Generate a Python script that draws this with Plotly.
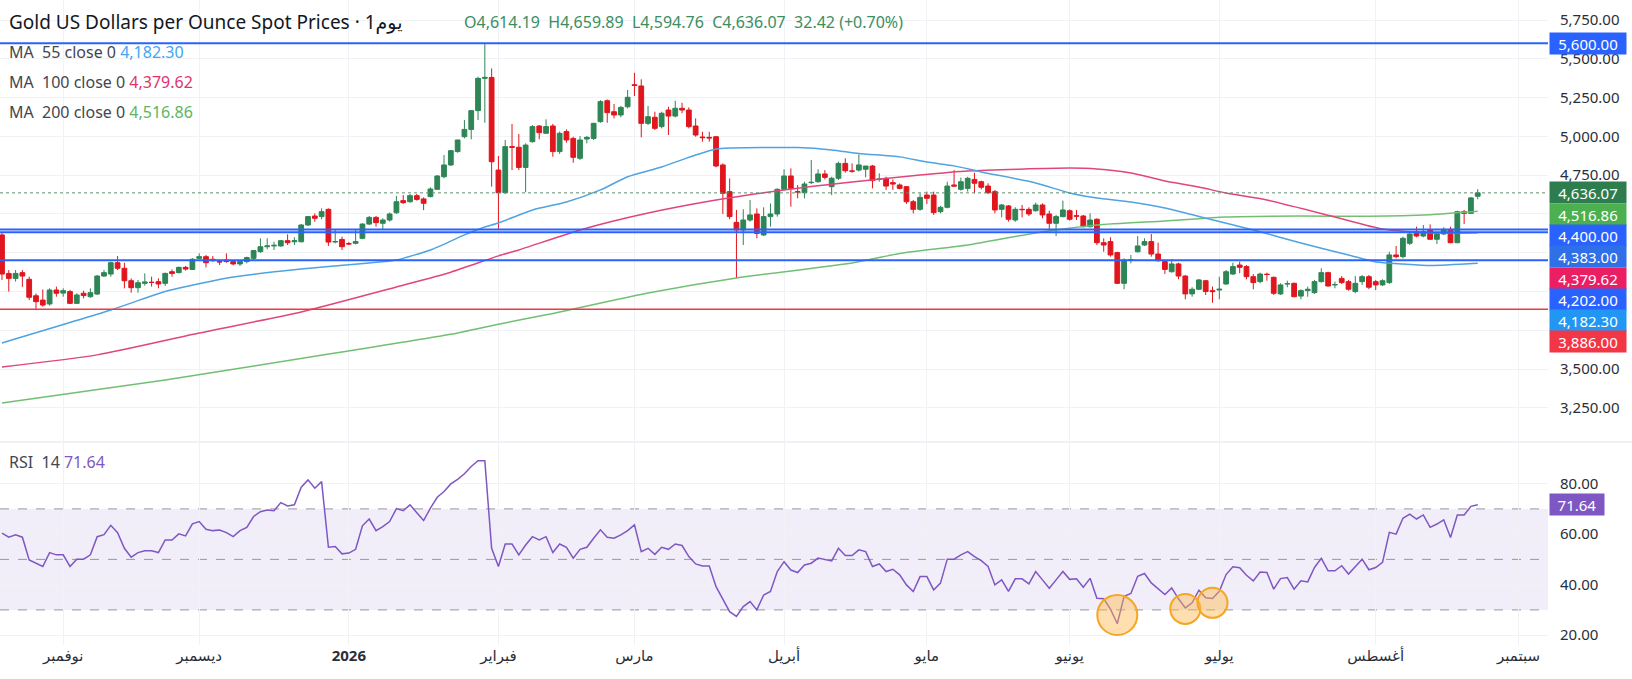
import pandas as pd
import plotly.graph_objects as go
from plotly.subplots import make_subplots

# ---------------------------------------------------------------------------
# Data (daily bars, weekdays minus the two closed days)
# ---------------------------------------------------------------------------
FIRST_BAR = "2025-10-21"
LAST_BAR = "2026-08-24"
HOLIDAYS = ["2025-12-25", "2026-04-03"]

OPEN = [
    4365, 4117, 4085, 4122, 4079, 3973, 3945, 3920, 4010, 3990,
    4000, 3924, 3989, 3967, 3984, 4100, 4113, 4186, 4150, 4070,
    4025, 4053, 4060, 4064, 4053, 4128, 4122, 4156, 4143, 4214,
    4225, 4208, 4193, 4203, 4193, 4178, 4193, 4214, 4257, 4289,
    4294, 4294, 4328, 4321, 4321, 4429, 4487, 4483, 4530, 4320,
    4336, 4309, 4311, 4343, 4435, 4478, 4440, 4461, 4508, 4586,
    4579, 4618, 4597, 4612, 4659, 4740, 4816, 4902, 4998, 5045,
    5166, 5374, 5380, 4783, 4637, 4934, 4930, 4800, 4966, 5067,
    5020, 5067, 4902, 5031, 4987, 4859, 4983, 4987, 5095, 5230,
    5159, 5138, 5191, 5333, 5325, 5084, 5123, 5063, 5170, 5131,
    5181, 5170, 5067, 4996, 4994, 4998, 4816, 4644, 4446, 4397,
    4461, 4500, 4365, 4483, 4500, 4659, 4745, 4644, 4637, 4702,
    4708, 4758, 4676, 4730, 4826, 4777, 4783, 4788, 4809, 4723,
    4730, 4702, 4687, 4676, 4579, 4530, 4622, 4622, 4515, 4543,
    4687, 4659, 4665, 4723, 4708, 4680, 4644, 4530, 4552, 4461,
    4530, 4530, 4521, 4558, 4500, 4440, 4483, 4521, 4489, 4487,
    4418, 4466, 4315, 4322, 4251, 4053, 4203, 4257, 4300, 4322,
    4242, 4193, 4128, 4178, 4100, 3985, 4015, 4070, 4006, 4010,
    4049, 4113, 4171, 4161, 4096, 4064, 4112, 4092, 3985, 4049,
    4053, 3971, 4006, 3993, 4064, 4122, 4043, 4085, 4064, 4000,
    4064, 4096, 4064, 4043, 4058, 4236, 4225, 4311, 4386, 4358,
    4397, 4337, 4371, 4401, 4315, 4515, 4504, 4614.19,
]
HIGH = [
    4380, 4139, 4139, 4139, 4096, 3988, 4014, 4021, 4032, 4021,
    4011, 3989, 4006, 4021, 4107, 4139, 4193, 4229, 4186, 4085,
    4075, 4117, 4096, 4085, 4122, 4143, 4161, 4165, 4216, 4246,
    4236, 4229, 4208, 4246, 4203, 4203, 4225, 4268, 4343, 4343,
    4321, 4332, 4369, 4350, 4435, 4487, 4504, 4536, 4536, 4397,
    4354, 4320, 4397, 4440, 4487, 4487, 4472, 4509, 4616, 4622,
    4629, 4629, 4607, 4672, 4751, 4880, 4912, 4977, 5105, 5170,
    5385, 5595, 5438, 4874, 4977, 5080, 5015, 4955, 5073, 5073,
    5110, 5080, 5031, 5045, 4998, 5002, 5002, 5088, 5234, 5238,
    5209, 5196, 5299, 5410, 5368, 5196, 5159, 5159, 5191, 5230,
    5217, 5187, 5116, 5030, 5030, 5002, 4826, 4729, 4526, 4530,
    4590, 4536, 4543, 4568, 4665, 4788, 4794, 4687, 4708, 4848,
    4788, 4783, 4740, 4837, 4859, 4826, 4884, 4809, 4816, 4762,
    4740, 4723, 4697, 4680, 4590, 4633, 4644, 4644, 4552, 4708,
    4783, 4734, 4740, 4766, 4715, 4698, 4655, 4564, 4558, 4543,
    4558, 4543, 4573, 4568, 4521, 4494, 4586, 4530, 4526, 4494,
    4504, 4472, 4343, 4350, 4257, 4214, 4236, 4358, 4343, 4371,
    4315, 4203, 4208, 4186, 4107, 4028, 4081, 4075, 4032, 4096,
    4139, 4186, 4193, 4171, 4113, 4122, 4122, 4096, 4053, 4070,
    4058, 4015, 4032, 4075, 4150, 4128, 4064, 4100, 4075, 4100,
    4107, 4107, 4075, 4079, 4257, 4294, 4354, 4386, 4418, 4429,
    4433, 4375, 4414, 4418, 4521, 4526, 4610, 4659.89,
]
LOW = [
    4075, 4000, 4064, 4030, 3945, 3880, 3903, 3909, 3967, 3967,
    3920, 3920, 3956, 3960, 3978, 4096, 4096, 4139, 4021, 3993,
    3993, 4038, 4032, 4021, 4036, 4096, 4117, 4135, 4139, 4208,
    4156, 4193, 4171, 4186, 4169, 4165, 4182, 4203, 4250, 4272,
    4268, 4289, 4300, 4300, 4317, 4423, 4450, 4466, 4294, 4311,
    4268, 4300, 4305, 4337, 4429, 4418, 4397, 4451, 4500, 4564,
    4573, 4586, 4525, 4607, 4655, 4730, 4809, 4895, 4987, 4981,
    5105, 5088, 4676, 4397, 4630, 4783, 4783, 4640, 4960, 4981,
    5015, 4869, 4887, 4960, 4830, 4848, 4955, 4977, 5088, 5088,
    5116, 5123, 5181, 5260, 4994, 5073, 5041, 5052, 5009, 5123,
    5149, 5052, 4998, 4966, 4966, 4801, 4500, 4466, 4086, 4300,
    4450, 4343, 4358, 4418, 4483, 4655, 4547, 4601, 4601, 4693,
    4702, 4723, 4622, 4719, 4766, 4766, 4773, 4736, 4665, 4708,
    4655, 4655, 4659, 4565, 4504, 4521, 4564, 4494, 4504, 4536,
    4676, 4650, 4644, 4633, 4659, 4629, 4504, 4478, 4451, 4450,
    4478, 4487, 4515, 4472, 4397, 4358, 4478, 4457, 4461, 4414,
    4414, 4300, 4257, 4225, 4049, 4015, 4182, 4251, 4294, 4225,
    4193, 4113, 4122, 4079, 3950, 3967, 4010, 3978, 3928, 3950,
    4043, 4107, 4118, 4079, 4015, 4053, 4070, 3978, 3978, 4028,
    3963, 3950, 3967, 3985, 4058, 4032, 4021, 4049, 4006, 3989,
    4043, 4015, 4010, 4036, 4049, 4214, 4214, 4300, 4350, 4350,
    4332, 4307, 4365, 4311, 4311, 4435, 4500, 4594.76,
]
CLOSE = [
    4113, 4085, 4117, 4100, 3963, 3935, 3913, 4010, 3989, 4006,
    3924, 3978, 3974, 3993, 4100, 4122, 4186, 4150, 4070, 4025,
    4057, 4062, 4059, 4049, 4117, 4117, 4156, 4145, 4208, 4225,
    4186, 4199, 4191, 4193, 4178, 4193, 4219, 4264, 4289, 4294,
    4298, 4328, 4315, 4328, 4429, 4483, 4472, 4515, 4319, 4322,
    4289, 4307, 4322, 4435, 4478, 4444, 4461, 4500, 4579, 4573,
    4618, 4594, 4569, 4661, 4745, 4816, 4908, 4977, 5045, 5166,
    5374, 5380, 4837, 4637, 4934, 4930, 4800, 4944, 5063, 5024,
    5063, 4902, 5020, 4977, 4865, 4977, 4994, 5084, 5224, 5153,
    5138, 5187, 5252, 5328, 5084, 5127, 5052, 5149, 5131, 5181,
    5170, 5063, 5009, 4992, 4990, 4809, 4633, 4483, 4397, 4461,
    4494, 4375, 4483, 4500, 4659, 4745, 4665, 4642, 4693, 4704,
    4758, 4736, 4730, 4826, 4779, 4776, 4816, 4809, 4715, 4725,
    4680, 4693, 4665, 4579, 4530, 4607, 4601, 4509, 4543, 4680,
    4680, 4708, 4730, 4698, 4672, 4637, 4526, 4558, 4466, 4530,
    4528, 4500, 4558, 4494, 4440, 4483, 4526, 4466, 4486, 4418,
    4461, 4315, 4300, 4236, 4053, 4203, 4205, 4294, 4322, 4242,
    4199, 4143, 4178, 4100, 3985, 4015, 4075, 4000, 4000, 4015,
    4128, 4161, 4156, 4096, 4058, 4113, 4110, 3989, 4043, 4051,
    3967, 4006, 4015, 4064, 4122, 4036, 4045, 4058, 4015, 4053,
    4096, 4028, 4043, 4070, 4236, 4225, 4343, 4371, 4358, 4386,
    4337, 4371, 4401, 4315, 4515, 4504, 4603.65, 4636.07,
]
RSI = [
    60.4, 58.8, 59.7, 58.8, 49.8, 48.5, 47.2, 52.7, 51.8, 51.8,
    47.2, 50.1, 50.1, 51.8, 59.0, 59.8, 63.5, 60.6, 54.4, 50.9,
    52.7, 53.4, 53.4, 52.7, 57.7, 57.7, 60.1, 59.3, 64.1, 65.0,
    61.9, 61.4, 61.6, 60.6, 59.0, 61.4, 62.7, 67.0, 68.9, 69.6,
    69.3, 72.5, 71.2, 71.6, 78.6, 81.5, 78.2, 80.8, 54.8, 55.1,
    52.2, 52.5, 54.0, 63.3, 66.0, 61.4, 63.0, 65.0, 70.1, 69.3,
    71.6, 68.5, 65.4, 70.3, 74.6, 76.9, 79.9, 81.7, 83.9, 86.8,
    89.1, 89.1, 54.4, 47.2, 56.1, 56.1, 51.8, 55.7, 59.0, 57.7,
    59.0, 52.7, 56.1, 54.8, 50.5, 54.0, 54.8, 58.4, 61.7, 58.8,
    58.4, 59.7, 61.4, 63.7, 53.1, 54.4, 52.0, 54.8, 54.0, 56.1,
    55.5, 51.1, 48.2, 47.4, 47.4, 39.2, 34.0, 29.3, 27.4, 31.3,
    33.3, 30.0, 35.9, 37.3, 45.2, 49.1, 45.8, 44.8, 47.8, 48.5,
    50.5, 49.8, 49.4, 54.4, 51.5, 51.5, 53.8, 53.1, 47.2, 48.2,
    45.2, 46.1, 43.9, 39.9, 37.3, 43.2, 43.2, 37.9, 40.6, 50.1,
    50.1, 51.8, 53.1, 51.1, 49.5, 47.2, 39.9, 41.9, 37.3, 42.3,
    42.3, 40.3, 45.2, 41.9, 38.6, 41.9, 45.2, 42.1, 42.3, 39.0,
    42.5, 34.6, 34.4, 30.3, 24.5, 35.4, 36.5, 43.3, 44.4, 40.7,
    38.3, 36.1, 38.7, 34.4, 30.8, 32.8, 37.8, 34.8, 34.5, 37.4,
    44.0, 47.1, 46.7, 43.7, 41.5, 45.0, 44.8, 38.2, 42.4, 42.8,
    38.2, 41.5, 41.1, 46.8, 50.4, 45.5, 45.5, 47.5, 44.2, 47.2,
    50.1, 45.9, 46.8, 48.8, 60.7, 60.0, 66.3, 67.9, 66.0, 67.6,
    62.7, 64.0, 65.7, 58.7, 67.6, 67.6, 71.0, 71.64,
]

# moving averages, read at a handful of bars (bar index -> value)
MA55_BARS = [0, 16, 24, 34, 44, 54, 58, 63, 68, 71, 73, 78, 83, 88, 92, 97, 102, 105, 107,
             117, 122, 126, 132, 136, 140, 144, 152, 157, 161, 166, 171, 176, 184, 191,
             198, 202, 206, 210, 217]
MA55_VALS = [3669, 3881, 4000, 4094, 4145, 4184, 4204, 4268, 4365, 4416, 4442, 4526, 4577,
             4655, 4740, 4803, 4880, 4919, 4925, 4928, 4913, 4890, 4868, 4835, 4810, 4771,
             4700, 4635, 4603, 4577, 4539, 4484, 4397, 4313, 4236, 4191, 4178, 4168, 4182.30]
MA100_BARS = [0, 14, 29, 44, 58, 66, 73, 76, 85, 95, 105, 115, 125, 135, 142, 157, 161, 166,
              171, 176, 180, 186, 196, 203, 210, 217]
MA100_VALS = [3514, 3592, 3733, 3869, 4030, 4125, 4230, 4268, 4397, 4506, 4590, 4655, 4706,
              4751, 4777, 4796, 4790, 4764, 4713, 4674, 4635, 4590, 4481, 4403, 4378, 4379.62]
MA200_BARS = [0, 24, 49, 66, 73, 80, 95, 108, 125, 132, 142, 152, 161, 171, 180, 191, 201,
              210, 217]
MA200_VALS = [3282, 3430, 3604, 3725, 3790, 3850, 3991, 4088, 4184, 4245, 4300, 4378, 4429,
              4455, 4481, 4487, 4485, 4495, 4516.86]

# horizontal levels drawn on the chart
BLUE_LEVELS = [5600.0, 4400.0, 4383.0, 4202.0]
RED_LEVEL = 3886.0

# RSI dips marked with orange circles (bar index, RSI value, radius px)
RSI_MARK_BARS = [164, 174, 178]
RSI_MARK_VALS = [28.0, 30.4, 32.8]
RSI_MARK_SIZE = [20, 15, 15]

MONTH_TICKS = ["2025-11-03", "2025-12-01", "2026-01-01", "2026-02-02", "2026-03-02",
               "2026-04-01", "2026-05-01", "2026-06-01", "2026-07-01", "2026-08-03",
               "2026-09-01"]
MONTH_TEXT = ["نوفمبر", "ديسمبر", "<b>2026</b>", "فبراير", "مارس", "أبريل", "مايو",
              "يونيو", "يوليو", "أغسطس", "سبتمبر"]
PRICE_TICKS = [3250, 3500, 3750, 4000, 4250, 4500, 4750, 5000, 5250, 5500, 5750]

# ---------------------------------------------------------------------------
W, H = 1632, 679
M_R, M_B = 84, 34
PLOT_W, PLOT_H = W - M_R, H - M_B
PRICE_PX = 441                      # height of the price pane
PRICE_RANGE = [3037, 5879]
RSI_RANGE = [16.1, 96.1]
PRICE_DOMAIN = [1 - PRICE_PX / PLOT_H, 1]
RSI_DOMAIN = [0, 1 - 443 / PLOT_H]

FONT = "Noto Sans, DejaVu Sans, sans-serif"
TEXT = "#2A2E39"
UP, DOWN = "#2E8555", "#E0161E"
MA55_C, MA100_C, MA200_C = "#4FA3E0", "#E0467C", "#72BF74"
BLUE, BLUE2, RED = "#2962FF", "#2F6FE8", "#F23645"
RSI_C = "#7E57C2"
GRID = "#F0F2F6"

dates = [d + pd.Timedelta(hours=12) for d in pd.bdate_range(FIRST_BAR, LAST_BAR)
         if d.strftime("%Y-%m-%d") not in HOLIDAYS]
assert len(dates) == len(CLOSE) == len(OPEN) == len(RSI)
at = lambda bars: [dates[k] for k in bars]

fig = make_subplots(rows=2, cols=1, shared_xaxes=True, vertical_spacing=0.01)

fig.add_trace(go.Candlestick(
    x=dates, open=OPEN, high=HIGH, low=LOW, close=CLOSE, whiskerwidth=0,
    increasing=dict(line=dict(color=UP, width=1), fillcolor=UP),
    decreasing=dict(line=dict(color=DOWN, width=1), fillcolor=DOWN),
    showlegend=False), row=1, col=1)

for bars, vals, color in ((MA200_BARS, MA200_VALS, MA200_C),
                          (MA100_BARS, MA100_VALS, MA100_C),
                          (MA55_BARS, MA55_VALS, MA55_C)):
    fig.add_trace(go.Scatter(x=at(bars), y=vals, mode="lines", showlegend=False,
                             line=dict(color=color, width=1.5, shape="spline", smoothing=0.6)),
                  row=1, col=1)

for lvl in BLUE_LEVELS:
    fig.add_hline(y=lvl, line=dict(color=BLUE, width=2), row=1, col=1)
fig.add_hline(y=RED_LEVEL, line=dict(color=RED, width=1.5), row=1, col=1)
fig.add_hline(y=CLOSE[-1], line=dict(color="#5E8F6E", width=1, dash="dot"), row=1, col=1)

# --- RSI pane ---
fig.add_shape(type="rect", xref="x2 domain", yref="y2", x0=0, x1=1, y0=30, y1=70,
              fillcolor="rgba(126,87,194,0.10)", line_width=0, layer="below")
for lvl in (70, 50, 30):
    fig.add_shape(type="line", xref="x2 domain", yref="y2", x0=0, x1=1, y0=lvl, y1=lvl,
                  line=dict(color="#9598A1", width=1, dash="dash"), layer="below")
fig.add_trace(go.Scatter(x=dates, y=RSI, mode="lines", showlegend=False,
                         line=dict(color=RSI_C, width=1.5)), row=2, col=1)
for k, v, r in zip(RSI_MARK_BARS, RSI_MARK_VALS, RSI_MARK_SIZE):
    fig.add_shape(type="circle", xref="x2", yref="y2", xsizemode="pixel", ysizemode="pixel",
                  xanchor=dates[k], yanchor=v, x0=-r, x1=r, y0=-r, y1=r,
                  fillcolor="rgba(255,183,77,0.45)", line=dict(color="#F5A623", width=2))

# pane separator
fig.add_shape(type="line", xref="paper", yref="paper", x0=0, x1=W / PLOT_W,
              y0=1 - 442 / PLOT_H, y1=1 - 442 / PLOT_H, line=dict(color="#E0E3EB", width=1))

# --- right-hand value labels, stacked downward so they never overlap ---
units_per_px = (PRICE_RANGE[1] - PRICE_RANGE[0]) / PRICE_PX
gap = 21.3 * units_per_px
labels = [(BLUE_LEVELS[0], BLUE), (CLOSE[-1], "#2E7D4F"), (MA200_VALS[-1], "#4CAF50"),
          (BLUE_LEVELS[1], BLUE), (BLUE_LEVELS[2], BLUE2), (MA100_VALS[-1], "#E91E63"),
          (BLUE_LEVELS[3], BLUE), (MA55_VALS[-1], "#2196F3"), (RED_LEVEL, RED)]
labels.sort(key=lambda t: -t[0])
placed, pos = [], None
for val, color in labels:
    pos = val if pos is None else min(val, pos - gap)
    placed.append(pos)
    fig.add_annotation(text=f"{val:,.2f}", xref="paper", yref="y", x=1, y=pos,
                       xanchor="left", yanchor="middle", xshift=1, showarrow=False,
                       bgcolor=color, width=72, height=17, borderpad=2,
                       font=dict(family=FONT, size=15, color="white"))
fig.add_annotation(text=f"{RSI[-1]:.2f}", xref="paper", yref="y2", x=1, y=RSI[-1],
                   xanchor="left", yanchor="middle", xshift=1, showarrow=False,
                   bgcolor=RSI_C, width=50, height=17, borderpad=2,
                   font=dict(family=FONT, size=15, color="white"))
# axis prices that sit under a value label are hidden, as on the chart
price_text = ["" if any(abs(t - p) < gap / 2 + 2 * units_per_px for p in placed[1:])
              else f"{t:,.2f}" for t in PRICE_TICKS]

# --- axes ---
breaks = [dict(bounds=["sat", "mon"]), dict(values=HOLIDAYS)]
x_range = [dates[0] - pd.Timedelta(hours=7), pd.Timestamp("2026-09-07 20:00")]
tickvals = [pd.Timestamp(t) + pd.Timedelta(hours=12) for t in MONTH_TICKS]
fig.update_xaxes(rangebreaks=breaks, range=x_range, tickmode="array", tickvals=tickvals,
                 ticktext=MONTH_TEXT, showgrid=True, gridcolor=GRID, zeroline=False,
                 showline=False, ticks="", rangeslider_visible=False, automargin=False,
                 tickfont=dict(family=FONT, size=15, color=TEXT))
fig.update_yaxes(side="right", showgrid=True, gridcolor=GRID, zeroline=False, ticks="",
                 automargin=False, ticklabelstandoff=11,
                 tickfont=dict(family=FONT, size=15, color=TEXT))
fig.update_yaxes(range=PRICE_RANGE, domain=PRICE_DOMAIN, tickmode="array",
                 tickvals=PRICE_TICKS, ticktext=price_text, row=1, col=1)
fig.update_yaxes(range=RSI_RANGE, domain=RSI_DOMAIN, dtick=20, tick0=20,
                 tickformat=".2f", row=2, col=1)


# --- legend-style texts at the top-left of each pane ---
def note(text, px, py, size=16, color=TEXT):
    fig.add_annotation(text=text, xref="paper", yref="paper", x=px / PLOT_W,
                       y=1 - py / PLOT_H, xanchor="left", yanchor="middle",
                       showarrow=False, font=dict(family=FONT, size=size, color=color))


nb = "\u00a0"
note("Gold US Dollars per Ounce Spot Prices · 1يوم", 7, 22, size=19, color="#131722")
chg = CLOSE[-1] - CLOSE[-2]
note(f"O{OPEN[-1]:,.2f}{nb}{nb}H{HIGH[-1]:,.2f}{nb}{nb}L{LOW[-1]:,.2f}{nb}{nb}"
     f"C{CLOSE[-1]:,.2f}{nb}{nb}{chg:,.2f} ({chg / CLOSE[-2] * 100:+.2f}%)",
     462, 22, size=16, color="#3B8E5E")
for (n, vals, color), py in zip(((55, MA55_VALS, "#42A5F5"), (100, MA100_VALS, "#E0336E"),
                                 (200, MA200_VALS, "#5DB562")), (52, 82, 112)):
    note(f"MA{nb}{nb}{n} close 0{nb}<span style='color:{color}'>{vals[-1]:,.2f}</span>",
         7, py, color="#434651")
note(f"RSI{nb}{nb}14{nb}<span style='color:{RSI_C}'>{RSI[-1]:.2f}</span>", 7, 462,
     color="#434651")

fig.update_layout(width=W, height=H, margin=dict(l=0, r=M_R, t=0, b=M_B),
                  paper_bgcolor="white", plot_bgcolor="white", showlegend=False,
                  boxgap=0.3, boxgroupgap=0, hovermode=False,
                  font=dict(family=FONT, color=TEXT))

fig.write_html("out.html", config={"displayModeBar": False},
               post_script="document.body.style.margin='0';")
